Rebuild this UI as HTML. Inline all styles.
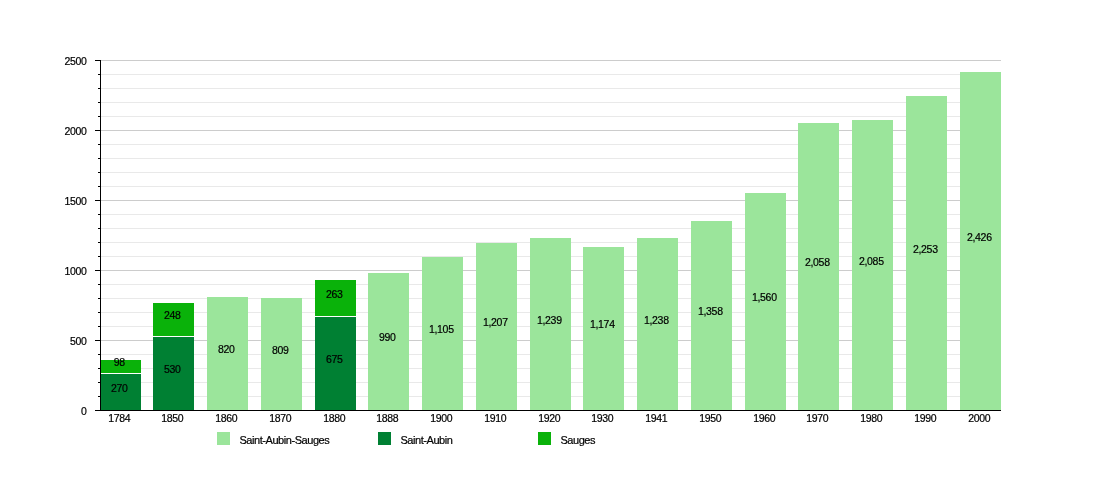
<!DOCTYPE html>
<html><head><meta charset="utf-8"><title>Saint-Aubin-Sauges population</title>
<style>html,body{margin:0;padding:0;background:#fff}svg{display:block}text{font-family:"Liberation Sans",Arial,sans-serif;fill:#000;stroke:#000;stroke-width:0.2px;letter-spacing:-0.3px}text.lg{letter-spacing:-0.44px}</style></head><body>
<svg width="1100" height="500" viewBox="0 0 1100 500">
<rect width="1100" height="500" fill="#fff"/>
<g shape-rendering="crispEdges">
<rect x="101" y="396" width="900" height="1" fill="#e9e9e9"/>
<rect x="101" y="382" width="900" height="1" fill="#e9e9e9"/>
<rect x="101" y="368" width="900" height="1" fill="#e9e9e9"/>
<rect x="101" y="354" width="900" height="1" fill="#e9e9e9"/>
<rect x="101" y="340" width="900" height="1" fill="#cccccc"/>
<rect x="101" y="326" width="900" height="1" fill="#e9e9e9"/>
<rect x="101" y="312" width="900" height="1" fill="#e9e9e9"/>
<rect x="101" y="298" width="900" height="1" fill="#e9e9e9"/>
<rect x="101" y="284" width="900" height="1" fill="#e9e9e9"/>
<rect x="101" y="270" width="900" height="1" fill="#cccccc"/>
<rect x="101" y="256" width="900" height="1" fill="#e9e9e9"/>
<rect x="101" y="242" width="900" height="1" fill="#e9e9e9"/>
<rect x="101" y="228" width="900" height="1" fill="#e9e9e9"/>
<rect x="101" y="214" width="900" height="1" fill="#e9e9e9"/>
<rect x="101" y="200" width="900" height="1" fill="#cccccc"/>
<rect x="101" y="186" width="900" height="1" fill="#e9e9e9"/>
<rect x="101" y="172" width="900" height="1" fill="#e9e9e9"/>
<rect x="101" y="158" width="900" height="1" fill="#e9e9e9"/>
<rect x="101" y="144" width="900" height="1" fill="#e9e9e9"/>
<rect x="101" y="130" width="900" height="1" fill="#cccccc"/>
<rect x="101" y="116" width="900" height="1" fill="#e9e9e9"/>
<rect x="101" y="102" width="900" height="1" fill="#e9e9e9"/>
<rect x="101" y="88" width="900" height="1" fill="#e9e9e9"/>
<rect x="101" y="74" width="900" height="1" fill="#e9e9e9"/>
<rect x="101" y="60" width="900" height="1" fill="#cccccc"/>
<rect x="100" y="374" width="41" height="36" fill="#008033"/>
<rect x="100" y="360" width="41" height="13" fill="#0ab20a"/>
<rect x="153" y="337" width="41" height="73" fill="#008033"/>
<rect x="153" y="303" width="41" height="33" fill="#0ab20a"/>
<rect x="207" y="297" width="41" height="113" fill="#9be59b"/>
<rect x="261" y="298" width="41" height="112" fill="#9be59b"/>
<rect x="315" y="317" width="41" height="93" fill="#008033"/>
<rect x="315" y="280" width="41" height="36" fill="#0ab20a"/>
<rect x="368" y="273" width="41" height="137" fill="#9be59b"/>
<rect x="422" y="257" width="41" height="153" fill="#9be59b"/>
<rect x="476" y="243" width="41" height="167" fill="#9be59b"/>
<rect x="530" y="238" width="41" height="172" fill="#9be59b"/>
<rect x="583" y="247" width="41" height="163" fill="#9be59b"/>
<rect x="637" y="238" width="41" height="172" fill="#9be59b"/>
<rect x="691" y="221" width="41" height="189" fill="#9be59b"/>
<rect x="745" y="193" width="41" height="217" fill="#9be59b"/>
<rect x="798" y="123" width="41" height="287" fill="#9be59b"/>
<rect x="852" y="120" width="41" height="290" fill="#9be59b"/>
<rect x="906" y="96" width="41" height="314" fill="#9be59b"/>
<rect x="960" y="72" width="41" height="338" fill="#9be59b"/>
<rect x="100" y="60" width="1" height="351" fill="#000"/>
<rect x="95" y="410" width="906" height="1" fill="#000"/>
<rect x="95" y="410" width="5" height="1" fill="#000"/>
<rect x="98" y="396" width="2" height="1" fill="#000"/>
<rect x="98" y="382" width="2" height="1" fill="#000"/>
<rect x="98" y="368" width="2" height="1" fill="#000"/>
<rect x="98" y="354" width="2" height="1" fill="#000"/>
<rect x="95" y="340" width="5" height="1" fill="#000"/>
<rect x="98" y="326" width="2" height="1" fill="#000"/>
<rect x="98" y="312" width="2" height="1" fill="#000"/>
<rect x="98" y="298" width="2" height="1" fill="#000"/>
<rect x="98" y="284" width="2" height="1" fill="#000"/>
<rect x="95" y="270" width="5" height="1" fill="#000"/>
<rect x="98" y="256" width="2" height="1" fill="#000"/>
<rect x="98" y="242" width="2" height="1" fill="#000"/>
<rect x="98" y="228" width="2" height="1" fill="#000"/>
<rect x="98" y="214" width="2" height="1" fill="#000"/>
<rect x="95" y="200" width="5" height="1" fill="#000"/>
<rect x="98" y="186" width="2" height="1" fill="#000"/>
<rect x="98" y="172" width="2" height="1" fill="#000"/>
<rect x="98" y="158" width="2" height="1" fill="#000"/>
<rect x="98" y="144" width="2" height="1" fill="#000"/>
<rect x="95" y="130" width="5" height="1" fill="#000"/>
<rect x="98" y="116" width="2" height="1" fill="#000"/>
<rect x="98" y="102" width="2" height="1" fill="#000"/>
<rect x="98" y="88" width="2" height="1" fill="#000"/>
<rect x="98" y="74" width="2" height="1" fill="#000"/>
<rect x="95" y="60" width="5" height="1" fill="#000"/>
</g>
<text x="86.6" y="415" font-size="10.5" text-anchor="end">0</text>
<text x="86.6" y="345" font-size="10.5" text-anchor="end">500</text>
<text x="86.6" y="275" font-size="10.5" text-anchor="end">1000</text>
<text x="86.6" y="205" font-size="10.5" text-anchor="end">1500</text>
<text x="86.6" y="135" font-size="10.5" text-anchor="end">2000</text>
<text x="86.6" y="65" font-size="10.5" text-anchor="end">2500</text>
<text x="119.3" y="422" font-size="10.5" text-anchor="middle">1784</text>
<text x="119.3" y="391.5" font-size="10.5" text-anchor="middle">270</text>
<text x="119.3" y="366.0" font-size="10.5" text-anchor="middle">98</text>
<text x="172.3" y="422" font-size="10.5" text-anchor="middle">1850</text>
<text x="172.3" y="373.0" font-size="10.5" text-anchor="middle">530</text>
<text x="172.3" y="319.0" font-size="10.5" text-anchor="middle">248</text>
<text x="226.3" y="422" font-size="10.5" text-anchor="middle">1860</text>
<text x="226.3" y="353.0" font-size="10.5" text-anchor="middle">820</text>
<text x="280.3" y="422" font-size="10.5" text-anchor="middle">1870</text>
<text x="280.3" y="353.5" font-size="10.5" text-anchor="middle">809</text>
<text x="334.3" y="422" font-size="10.5" text-anchor="middle">1880</text>
<text x="334.3" y="363.0" font-size="10.5" text-anchor="middle">675</text>
<text x="334.3" y="297.5" font-size="10.5" text-anchor="middle">263</text>
<text x="387.3" y="422" font-size="10.5" text-anchor="middle">1888</text>
<text x="387.3" y="341.0" font-size="10.5" text-anchor="middle">990</text>
<text x="441.3" y="422" font-size="10.5" text-anchor="middle">1900</text>
<text x="441.3" y="333.0" font-size="10.5" text-anchor="middle">1,105</text>
<text x="495.3" y="422" font-size="10.5" text-anchor="middle">1910</text>
<text x="495.3" y="326.0" font-size="10.5" text-anchor="middle">1,207</text>
<text x="549.3" y="422" font-size="10.5" text-anchor="middle">1920</text>
<text x="549.3" y="323.5" font-size="10.5" text-anchor="middle">1,239</text>
<text x="602.3" y="422" font-size="10.5" text-anchor="middle">1930</text>
<text x="602.3" y="328.0" font-size="10.5" text-anchor="middle">1,174</text>
<text x="656.3" y="422" font-size="10.5" text-anchor="middle">1941</text>
<text x="656.3" y="323.5" font-size="10.5" text-anchor="middle">1,238</text>
<text x="710.3" y="422" font-size="10.5" text-anchor="middle">1950</text>
<text x="710.3" y="315.0" font-size="10.5" text-anchor="middle">1,358</text>
<text x="764.3" y="422" font-size="10.5" text-anchor="middle">1960</text>
<text x="764.3" y="301.0" font-size="10.5" text-anchor="middle">1,560</text>
<text x="817.3" y="422" font-size="10.5" text-anchor="middle">1970</text>
<text x="817.3" y="266.0" font-size="10.5" text-anchor="middle">2,058</text>
<text x="871.3" y="422" font-size="10.5" text-anchor="middle">1980</text>
<text x="871.3" y="264.5" font-size="10.5" text-anchor="middle">2,085</text>
<text x="925.3" y="422" font-size="10.5" text-anchor="middle">1990</text>
<text x="925.3" y="252.5" font-size="10.5" text-anchor="middle">2,253</text>
<text x="979.3" y="422" font-size="10.5" text-anchor="middle">2000</text>
<text x="979.3" y="240.5" font-size="10.5" text-anchor="middle">2,426</text>
<rect x="217" y="432" width="13" height="13" fill="#9be59b" shape-rendering="crispEdges"/>
<text class="lg" x="239.4" y="443.5" font-size="11">Saint-Aubin-Sauges</text>
<rect x="378" y="432" width="13" height="13" fill="#008033" shape-rendering="crispEdges"/>
<text class="lg" x="400.4" y="443.5" font-size="11">Saint-Aubin</text>
<rect x="538" y="432" width="13" height="13" fill="#0ab20a" shape-rendering="crispEdges"/>
<text class="lg" x="560.4" y="443.5" font-size="11">Sauges</text>
</svg></body></html>
